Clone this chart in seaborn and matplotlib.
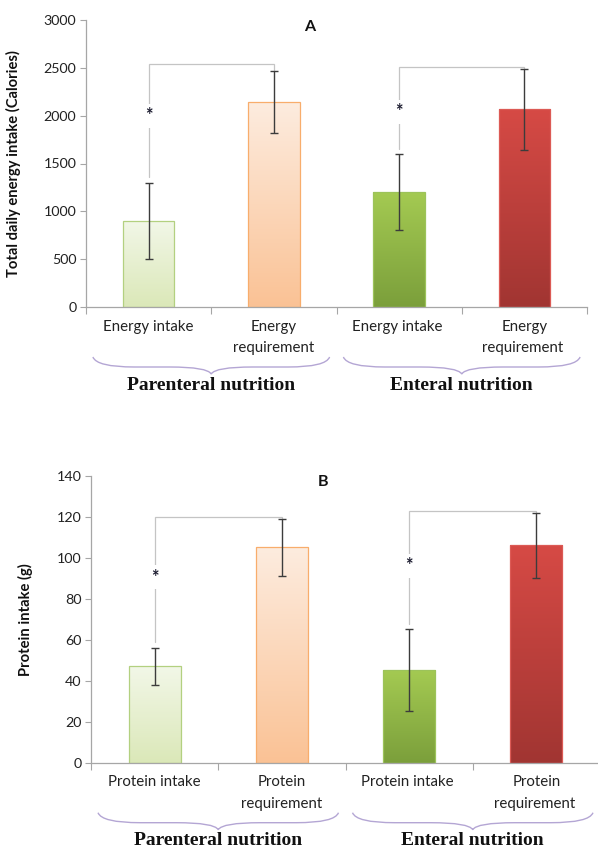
import numpy as np
import pandas as pd
import matplotlib
matplotlib.use("Agg")
import matplotlib.pyplot as plt
import seaborn as sns
from matplotlib.colors import LinearSegmentedColormap
from matplotlib.path import Path
from matplotlib.patches import PathPatch
from matplotlib.ticker import FixedLocator

# ---------------- data ----------------
energy_labels = ["Energy intake", "Energy\nrequirement", "Energy intake ", "Energy\nrequirement "]
energy_means = [900, 2140, 1200, 2065]
energy_errs = [400, 325, 395, 420]
energy_bracket_y = [2537, 2512]
energy_star_y = [2000, 2040]

protein_labels = ["Protein intake", "Protein\nrequirement", "Protein intake ", "Protein\nrequirement "]
protein_means = [47, 105, 45, 106]
protein_errs = [9, 14, 20, 16]
protein_bracket_y = [120, 123]
protein_star_y = [90.5, 96]

group_labels = ["Parenteral nutrition", "Enteral nutrition"]
pairs = [(0, 1), (2, 3)]

# ---------------- style ----------------
sns.set_theme(style="white")
plt.rcParams["font.family"] = ["Lato", "DejaVu Sans"]

grad_top = ["#f2f7e8", "#fdecdf", "#a4ca52", "#d64a45"]
grad_bot = ["#dbe8b8", "#fac295", "#7b9f3b", "#a13532"]
edges = ["#b3d080", "#f8ad6c", "#9cc35a", "#dc5a55"]
axis_col = "#a6a6a6"
bracket_col = "#c4c4c4"

fig = plt.figure(figsize=(5.98, 8.51), dpi=100)
W, H = 598, 851


def px_axes(left, top, right, bottom):
    return fig.add_axes([left / W, 1 - bottom / H, (right - left) / W, (bottom - top) / H])


axA = px_axes(86, 20, 587, 307)
axB = px_axes(91, 475.7, 600, 762.7)


def draw_panel(ax, labels, means, errs, bracket_y, star_y, ymax, ystep, ylabel,
               ylabel_x, axes_h_px):
    df = pd.DataFrame({"cat": labels, "val": means})
    sns.barplot(data=df, x="cat", y="val", hue="cat", order=labels, hue_order=labels,
                palette=grad_top, width=0.41, errorbar=None, legend=False, ax=ax,
                saturation=1)
    # gradient fill clipped to each bar
    for patch, ct, cb, ec in zip(ax.patches, grad_top, grad_bot, edges):
        x0, y0 = patch.get_x(), patch.get_y()
        w, h = patch.get_width(), patch.get_height()
        cmap = LinearSegmentedColormap.from_list("g", [ct, cb])
        grad = np.linspace(0, 1, 256).reshape(-1, 1)
        im = ax.imshow(grad, extent=[x0, x0 + w, y0, y0 + h], origin="upper",
                       cmap=cmap, aspect="auto", zorder=1.5, interpolation="bicubic")
        im.set_clip_path(patch)
        patch.set_facecolor("none")
        patch.set_edgecolor(ec)
        patch.set_linewidth(0.9)
        patch.set_zorder(2)
    xs = np.arange(len(labels))
    ax.errorbar(xs, means, yerr=errs, fmt="none", ecolor="#3c3c3c", elinewidth=1.0,
                capsize=2.6, capthick=1.0, zorder=4)
    # significance brackets
    gap = ymax * 0.02
    for (i, j), by, sy in zip(pairs, bracket_y, star_y):
        ax.plot([i, i, j, j], [means[i] + errs[i] + gap, by, by, means[j] + errs[j]],
                color=bracket_col, lw=0.9, zorder=3, solid_joinstyle="miter")
        ax.text(i, sy, "*", ha="center", va="center", fontsize=13, fontweight="bold",
                color="#1a1a2e", zorder=5,
                bbox=dict(facecolor="white", edgecolor="none", pad=2.5))
    ax.set_xlim(-0.5, len(labels) - 0.5)
    ax.set_ylim(0, ymax)
    ax.set_yticks(np.arange(0, ymax + 1, ystep))
    ax.tick_params(axis="y", which="major", length=4, width=0.8, color=axis_col,
                   labelsize=10.3, labelcolor="#222222", pad=3, left=True)
    ax.set_xticks(xs)
    ax.set_xticklabels(labels)
    ax.tick_params(axis="x", which="major", length=0, labelsize=10.8,
                   labelcolor="#222222", pad=9)
    for t in ax.get_xticklabels():
        t.set_linespacing(1.7)
    ax.xaxis.set_minor_locator(FixedLocator(np.arange(-0.5, len(labels), 1.0)))
    ax.tick_params(axis="x", which="minor", length=5, width=0.8, color=axis_col,
                   bottom=True, direction="out")
    for s in ["top", "right"]:
        ax.spines[s].set_visible(False)
    for s in ["left", "bottom"]:
        ax.spines[s].set_color(axis_col)
        ax.spines[s].set_linewidth(0.9)
    ax.set_xlabel("")
    ax.set_ylabel(ylabel, fontsize=10.6, fontweight="bold", color="#111111")
    ax.yaxis.set_label_coords(ylabel_x, 0.5)

    # curly braces + group labels
    trans = ax.get_xaxis_transform()
    y_top = -50 / axes_h_px
    y_mid = -60 / axes_h_px
    y_tip = -67 / axes_h_px
    y_lab = -78 / axes_h_px
    d = 0.33
    for (i, j), glab in zip(pairs, group_labels):
        x0, x1 = i - 0.445, j + 0.445
        xm = (i + j) / 2
        verts = [(x0, y_top), (x0 + 0.03, y_mid), (x0 + d, y_mid),
                 (xm - d, y_mid),
                 (xm - 0.03, y_mid), (xm, y_tip),
                 (xm + 0.03, y_mid), (xm + d, y_mid),
                 (x1 - d, y_mid),
                 (x1 - 0.03, y_mid), (x1, y_top)]
        codes = [Path.MOVETO, Path.CURVE3, Path.CURVE3, Path.LINETO,
                 Path.CURVE3, Path.CURVE3, Path.CURVE3, Path.CURVE3,
                 Path.LINETO, Path.CURVE3, Path.CURVE3]
        pp = PathPatch(Path(verts, codes), transform=trans, facecolor="none",
                       edgecolor="#b4a6d4", lw=1.0, clip_on=False)
        ax.add_patch(pp)
        ax.text(xm, y_lab, glab, transform=trans, ha="center", va="center",
                fontsize=14, fontweight="bold", family=["Liberation Serif", "DejaVu Serif"],
                color="#111111", clip_on=False)


draw_panel(axA, energy_labels, energy_means, energy_errs, energy_bracket_y, energy_star_y,
           3000, 500, "Total daily energy intake (Calories)", -0.13, 287)
draw_panel(axB, protein_labels, protein_means, protein_errs, protein_bracket_y,
           protein_star_y, 140, 20, "Protein intake (g)", -0.114, 287)

fig.text(310 / W, 1 - 27 / H, "A", ha="center", va="center", fontsize=11.5,
         fontweight="bold", color="#111111")
fig.text(323 / W, 1 - 482 / H, "B", ha="center", va="center", fontsize=11.5,
         fontweight="bold", color="#111111")

fig.savefig("out.png", dpi=100)
